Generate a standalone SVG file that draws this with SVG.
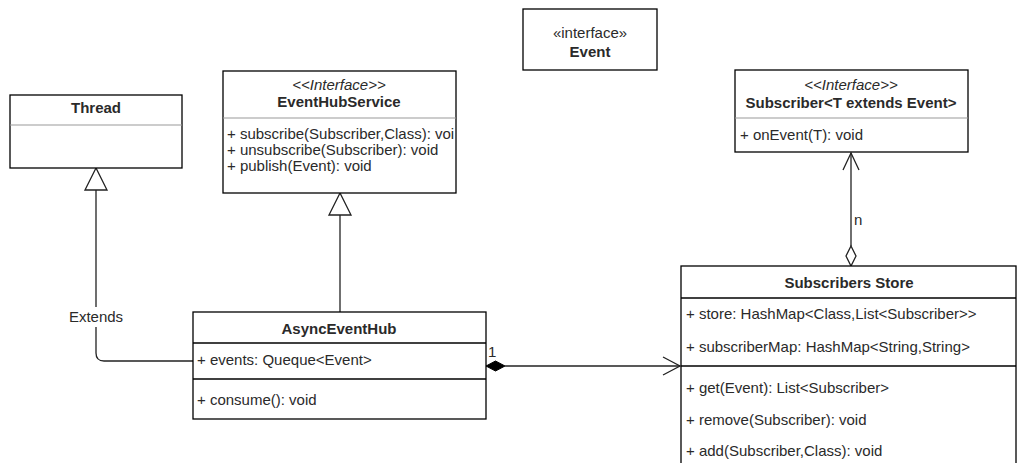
<svg xmlns="http://www.w3.org/2000/svg" width="1017" height="463" viewBox="0 0 1017 463">
<style>
.box{fill:#fff;stroke:#000;stroke-width:1.3}
.div{stroke:#000;stroke-width:1.3;fill:none}
.thin{stroke:#999;stroke-width:1;fill:none}
.t{font-family:"Liberation Sans",Arial,sans-serif;font-size:15px;fill:#2a2a2a}
.b{font-weight:bold;text-anchor:middle}
.i{font-style:italic;text-anchor:middle}
.m{text-anchor:middle}
.ln{stroke:#222;stroke-width:1.3;fill:none}
</style>
<defs>
<clipPath id="ehsClip"><rect x="223" y="70" width="233" height="124"/></clipPath>
</defs>
<g id="connectors">
<path class="ln" d="M193,361 H104 Q96,361 96,353 V190"/>
<polygon points="96,168 85,190 107,190" fill="#fff" stroke="#222" stroke-width="1.3"/>
<rect x="66" y="307" width="60" height="20" fill="#fff"/>
<text class="t m" x="96" y="322" font-size="16px">Extends</text>
<path class="ln" d="M340,312 V215"/>
<polygon points="340,193 329,215 351,215" fill="#fff" stroke="#222" stroke-width="1.3"/>
<path class="ln" d="M505,366 H680"/>
<polygon points="486,366 495.5,361 505,366 495.5,371" fill="#000" stroke="#000" stroke-width="1"/>
<path class="ln" d="M663,357 L680,366 L663,375"/>
<text class="t" x="488" y="357">1</text>
<path class="ln" d="M851,153 V246"/>
<path class="ln" d="M843,170 L851,153 L859,170"/>
<polygon points="851,246 856,256 851,266 846,256" fill="#fff" stroke="#222" stroke-width="1.3"/>
<text class="t" x="854" y="225">n</text>
</g>
<g id="Thread">
<rect class="box" x="10" y="95" width="172" height="73"/>
<line class="thin" x1="10" y1="125" x2="182" y2="125"/>
<text class="t b" x="96" y="113">Thread</text>
</g>
<g id="EventHubService">
<rect class="box" x="223" y="71" width="233" height="122"/>
<line class="thin" x1="223" y1="118" x2="456" y2="118"/>
<text class="t i" x="339" y="90">&lt;&lt;Interface&gt;&gt;</text>
<text class="t b" x="339" y="107">EventHubService</text>
<g clip-path="url(#ehsClip)">
<text class="t" x="227" y="139">+ subscribe(Subscriber,Class): voi</text>
</g>
<text class="t" x="227" y="155">+ unsubscribe(Subscriber): void</text>
<text class="t" x="227" y="171">+ publish(Event): void</text>
</g>
<g id="Event">
<rect class="box" x="523" y="9" width="134" height="61"/>
<text class="t m" x="590" y="38">«interface»</text>
<text class="t b" x="590" y="57">Event</text>
</g>
<g id="Subscriber">
<rect class="box" x="735" y="70" width="233" height="82"/>
<line class="thin" x1="735" y1="118" x2="968" y2="118"/>
<text class="t i" x="851" y="90">&lt;&lt;Interface&gt;&gt;</text>
<text class="t b" x="851" y="108">Subscriber&lt;T extends Event&gt;</text>
<text class="t" x="740" y="140">+ onEvent(T): void</text>
</g>
<g id="AsyncEventHub">
<rect class="box" x="193" y="312" width="293" height="107"/>
<line class="div" x1="193" y1="343" x2="486" y2="343"/>
<line class="div" x1="193" y1="379" x2="486" y2="379"/>
<text class="t b" x="339" y="334">AsyncEventHub</text>
<text class="t" x="197" y="365">+ events: Queque&lt;Event&gt;</text>
<text class="t" x="197" y="405">+ consume(): void</text>
</g>
<g id="SubscribersStore">
<rect class="box" x="681" y="266" width="335" height="210"/>
<line class="div" x1="681" y1="298" x2="1016" y2="298"/>
<line class="div" x1="681" y1="366" x2="1016" y2="366"/>
<text class="t b" x="849" y="288">Subscribers Store</text>
<text class="t" x="686" y="319">+ store: HashMap&lt;Class,List&lt;Subscriber&gt;&gt;</text>
<text class="t" x="686" y="352">+ subscriberMap: HashMap&lt;String,String&gt;</text>
<text class="t" x="686" y="393">+ get(Event): List&lt;Subscriber&gt;</text>
<text class="t" x="686" y="425">+ remove(Subscriber): void</text>
<text class="t" x="686" y="456">+ add(Subscriber,Class): void</text>
</g>
</svg>
